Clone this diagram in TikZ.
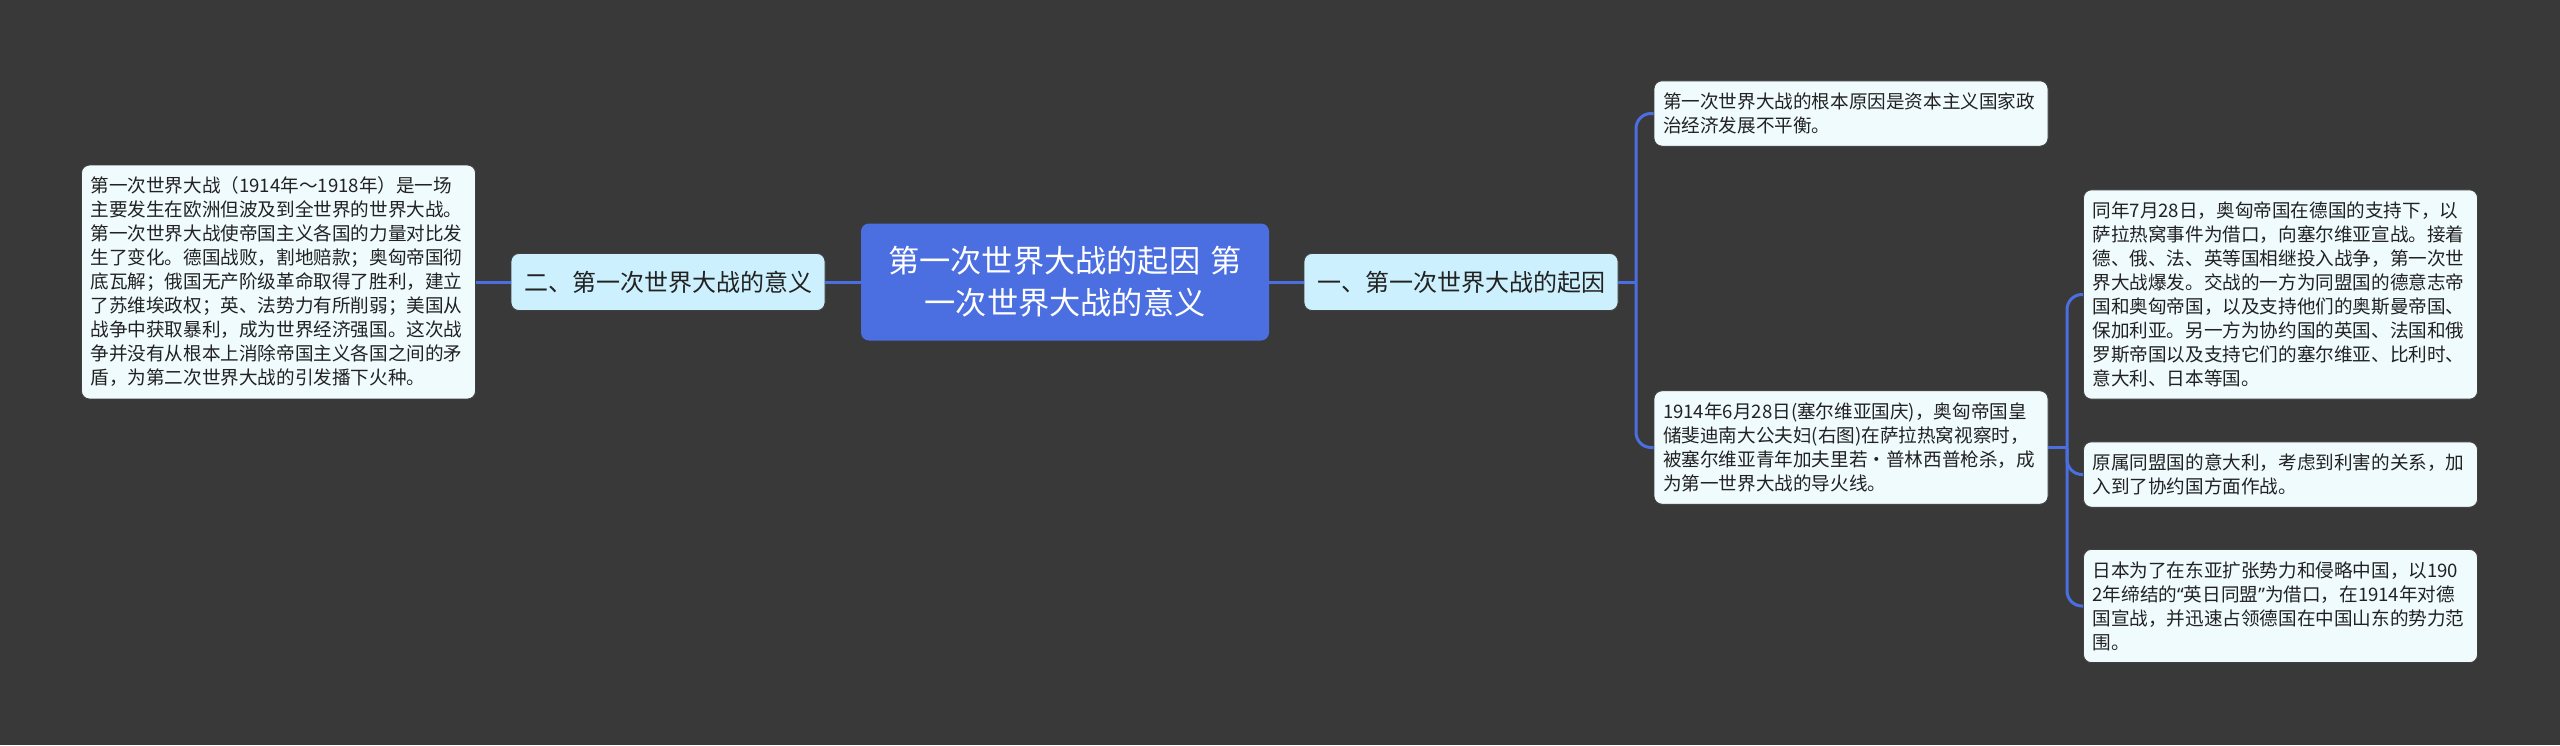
\documentclass[tikz,border=0pt]{standalone}
\usepackage{fontspec}
\setmainfont{Noto Sans CJK SC}
\newfontfamily\latinq{Noto Sans}
\usepackage{tikz}

\definecolor{bgcol}{HTML}{3A393A}
\definecolor{linkblue}{HTML}{4B6EE1}
\definecolor{subfill}{HTML}{CCF0FD}
\definecolor{leaffill}{HTML}{F0FBFE}
\definecolor{inkcol}{HTML}{222222}

\tikzset{
  rootbox/.style={fill=linkblue, rounded corners=4pt, text=white, align=center,
    minimum width=204pt, minimum height=58.5pt, text width=194pt,
    font=\fontsize{15.6pt}{21pt}\selectfont},
  subbox/.style={fill=subfill, draw=black!75, line width=0.4pt, rounded corners=4pt,
    text=inkcol, minimum width=157pt, minimum height=28.5pt,
    font=\fontsize{12pt}{14pt}\selectfont},
  leafbox/.style={fill=leaffill, draw=black!75, line width=0.4pt, rounded corners=4pt,
    text=inkcol, align=left, text width=188pt, inner xsep=4.5pt, inner ysep=6pt,
    font=\fontsize{9.3pt}{12pt}\selectfont},
  link/.style={draw=linkblue, line width=1.5pt, rounded corners=7.5pt}
}

\begin{document}
\begin{tikzpicture} [x=0.5pt,y=-0.5pt]

\fill [bgcol] (0,0) rectangle (2560,745);
\useasboundingbox (0,0) rectangle (2560,745);

% centre topic
\node [rootbox] (topic) at (1065,282) {第一次世界大战的起因 第\\一次世界大战的意义};

% the two branches
\node [subbox] (meaning) at (668,282) {二、第一次世界大战的意义};
\node [subbox] (origin) at (1461,282) {一、第一次世界大战的起因};

%% left side
\node [leafbox] (effect) at (278.5,282) {第一次世界大战（1914年～1918年）是一场\\
主要发生在欧洲但波及到全世界的世界大战。\\
第一次世界大战使帝国主义各国的力量对比发\\
生了变化。德国战败，割地赔款；奥匈帝国彻\\
底瓦解；俄国无产阶级革命取得了胜利，建立\\
了苏维埃政权；英、法势力有所削弱；美国从\\
战争中获取暴利，成为世界经济强国。这次战\\
争并没有从根本上消除帝国主义各国之间的矛\\
盾，为第二次世界大战的引发播下火种。};

%% right side
\node [leafbox] (rootcause) at (1851,113.5) {第一次世界大战的根本原因是资本主义国家政\\
治经济发展不平衡。};
\node [leafbox] (fuse) at (1851,447.5) {1914年6月28日(塞尔维亚国庆)，奥匈帝国皇\\
储斐迪南大公夫妇(右图)在萨拉热窝视察时，\\
被塞尔维亚青年加夫里若·普林西普枪杀，成\\
为第一世界大战的导火线。};

% what followed the fuse
\node [leafbox] (outbreak) at (2280.5,294.5) {同年7月28日，奥匈帝国在德国的支持下，以\\
萨拉热窝事件为借口，向塞尔维亚宣战。接着\\
德、俄、法、英等国相继投入战争，第一次世\\
界大战爆发。交战的一方为同盟国的德意志帝\\
国和奥匈帝国，以及支持他们的奥斯曼帝国、\\
保加利亚。另一方为协约国的英国、法国和俄\\
罗斯帝国以及支持它们的塞尔维亚、比利时、\\
意大利、日本等国。};
\node [leafbox] (italy) at (2280.5,474.5) {原属同盟国的意大利，考虑到利害的关系，加\\
入到了协约国方面作战。};
\node [leafbox] (japan) at (2280.5,606) {日本为了在东亚扩张势力和侵略中国，以190\\
2年缔结的{\latinq “}英日同盟{\latinq ”}为借口，在1914年对德\\
国宣战，并迅速占领德国在中国山东的势力范\\
围。};

% junctions of the trunks
\coordinate (j1) at (1636,282);
\coordinate (j2) at (2067,447.5);

% connectors
\draw [link] (topic.west) -- (meaning.east);
\draw [link] (meaning.west) -- (effect.east);
\draw [link] (topic.east) -- (origin.west);

\draw [link] (origin.east) -- (j1);
\draw [link] (j1) |- (rootcause.west);
\draw [link] (j1) |- (fuse.west);

\draw [link] (fuse.east) -- (j2);
\draw [link] (j2) |- (outbreak.west);
\draw [link] (j2) |- (italy.west);
\draw [link] (j2) |- (japan.west);

\end{tikzpicture}
\end{document}
